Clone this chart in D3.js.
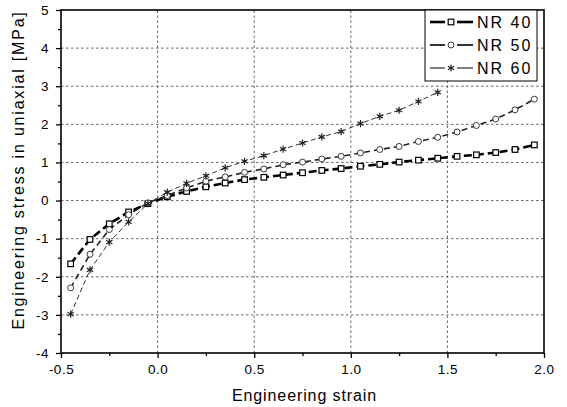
<!DOCTYPE html>
<html>
<head>
<meta charset="utf-8">
<script src="https://cdn.jsdelivr.net/npm/d3@7"></script>
<style>
  body { margin: 0; background: #fff; }
  svg text { font-family: "Liberation Sans", Arial, sans-serif; fill: #000; }
</style>
</head>
<body>
<svg width="567" height="407"></svg>
<script>
// strain values where the markers sit
let strain = [-0.45, -0.35, -0.25, -0.15, -0.05, 0.05, 0.15, 0.25, 0.35, 0.45, 0.55, 0.65,
  0.75, 0.85, 0.95, 1.05, 1.15, 1.25, 1.35, 1.45, 1.55, 1.65, 1.75, 1.85, 1.95];

let nr40 = [-1.66, -1.02, -0.61, -0.30, -0.08, 0.10, 0.24, 0.36, 0.46, 0.55, 0.61, 0.67,
  0.73, 0.79, 0.84, 0.90, 0.95, 1.01, 1.06, 1.11, 1.16, 1.20, 1.26, 1.34, 1.46];
let nr50 = [-2.29, -1.41, -0.76, -0.37, -0.06, 0.13, 0.33, 0.51, 0.62, 0.74, 0.83, 0.94,
  1.01, 1.09, 1.16, 1.25, 1.34, 1.42, 1.55, 1.66, 1.80, 1.97, 2.14, 2.38, 2.66];
let nr60 = [-2.98, -1.82, -1.09, -0.56, -0.08, 0.22, 0.45, 0.65, 0.86, 1.03, 1.18, 1.35,
  1.51, 1.67, 1.81, 2.02, 2.21, 2.37, 2.60, 2.84];

let series_names = ["NR 40", "NR 50", "NR 60"];

let x_ticks = [-0.5, 0.0, 0.5, 1.0, 1.5, 2.0];
let y_ticks = [-4, -3, -2, -1, 0, 1, 2, 3, 4, 5];

// estilos por serie
let estilos = [
  { width: 2.6, dash: "8,4", marker: "square", cor: "#000" },
  { width: 1.6, dash: "6,4", marker: "circle", cor: "#222" },
  { width: 1.0, dash: "5,3", marker: "star", cor: "#333" }
];

let margin = { top: 10, right: 23, bottom: 54, left: 61 };
let W = 567, H = 407;

let svg = d3.select("svg");

let x = d3.scaleLinear().domain([-0.5, 2.0]).range([margin.left, W - margin.right]);
let y = d3.scaleLinear().domain([-4, 5]).range([H - margin.bottom, margin.top]);

let dados = [nr40, nr50, nr60].map((vals, i) => ({
  name: series_names[i],
  estilo: estilos[i],
  pontos: vals.map((v, j) => ({ x: strain[j], y: v }))
}));

// grid
let grid = svg.append("g").attr("stroke", "#555").attr("stroke-width", 0.9).attr("stroke-dasharray", "2.5,2.5");
grid.selectAll("line.gx")
  .data(x_ticks.slice(1, -1))
  .join("line")
    .attr("x1", d => x(d)).attr("x2", d => x(d))
    .attr("y1", y(-4)).attr("y2", y(5));
grid.selectAll("line.gy")
  .data(y_ticks.slice(1, -1))
  .join("line")
    .attr("class", "gy")
    .attr("x1", x(-0.5)).attr("x2", x(2.0))
    .attr("y1", d => y(d)).attr("y2", d => y(d));

// eixos (hifen simples nos negativos, como no original)
let fmt_x = d => d3.format(".1f")(d).replace("−", "-");
let fmt_y = d => d3.format("d")(d).replace("−", "-");

let xAxis = d3.axisBottom(x).tickValues(x_ticks).tickFormat(fmt_x).tickSize(5).tickPadding(6);
let xMinor = d3.axisBottom(x).tickValues(d3.range(-0.25, 2.0, 0.5)).tickFormat("").tickSize(3);
let yAxis = d3.axisLeft(y).tickValues(y_ticks).tickFormat(fmt_y).tickSize(5).tickPadding(7);
let yMinor = d3.axisLeft(y).tickValues(d3.range(-3.5, 5, 1)).tickFormat("").tickSize(3);

function estiliza(g) {
  g.select(".domain").remove();
  g.selectAll("line").attr("stroke", "#000").attr("stroke-width", 1.3);
  g.selectAll("text").attr("font-size", 13.5).style("letter-spacing", "0.5px");
}

svg.append("g").attr("transform", `translate(0,${y(-4)})`).call(xAxis).call(estiliza);
svg.append("g").attr("transform", `translate(0,${y(-4)})`).call(xMinor).call(estiliza);
svg.append("g").attr("transform", `translate(${x(-0.5)},0)`).call(yAxis).call(estiliza);
svg.append("g").attr("transform", `translate(${x(-0.5)},0)`).call(yMinor).call(estiliza);

svg.append("rect")
  .attr("x", x(-0.5)).attr("y", y(5))
  .attr("width", x(2.0) - x(-0.5)).attr("height", y(-4) - y(5))
  .attr("fill", "none").attr("stroke", "#000").attr("stroke-width", 1.6);

// curvas
let line = d3.line().x(d => x(d.x)).y(d => y(d.y));

svg.append("g").selectAll("path")
  .data(dados)
  .join("path")
    .attr("d", d => line(d.pontos))
    .attr("fill", "none")
    .attr("stroke", d => d.estilo.cor)
    .attr("stroke-width", d => d.estilo.width)
    .attr("stroke-dasharray", d => d.estilo.dash);

function desenha_marker(g, tipo) {
  if (tipo == "square") {
    g.append("rect").attr("x", -2.8).attr("y", -2.8).attr("width", 5.6).attr("height", 5.6)
      .attr("fill", "#fff").attr("stroke", "#000").attr("stroke-width", 1.2);
  } else if (tipo == "circle") {
    g.append("circle").attr("r", 3)
      .attr("fill", "#fff").attr("stroke", "#222").attr("stroke-width", 0.9);
  } else {
    g.append("path")
      .attr("d", d3.symbol().type(d3.symbolAsterisk).size(36)())
      .attr("fill", "none").attr("stroke", "#222").attr("stroke-width", 1.2);
  }
}

dados.forEach(s => {
  svg.append("g").selectAll("g")
    .data(s.pontos)
    .join("g")
      .attr("transform", d => `translate(${x(d.x)},${y(d.y)})`)
      .each(function() { desenha_marker(d3.select(this), s.estilo.marker); });
});

// legenda
let leg = svg.append("g").attr("transform", "translate(425,10)");
leg.append("rect").attr("width", 112).attr("height", 71)
  .attr("fill", "#fff").attr("stroke", "#000").attr("stroke-width", 1);

let itens = leg.selectAll("g.item")
  .data(dados)
  .join("g")
    .attr("class", "item")
    .attr("transform", (d, i) => `translate(0,${12 + i * 23})`);

itens.each(function(d) {
  let g = d3.select(this);
  g.append("line").attr("x1", 5).attr("x2", 20).attr("stroke", "#000").attr("stroke-width", d.estilo.width);
  g.append("line").attr("x1", 32).attr("x2", 48).attr("stroke", "#000").attr("stroke-width", d.estilo.width);
  let m = g.append("g").attr("transform", "translate(26,0)");
  desenha_marker(m, d.estilo.marker);
  g.append("text").attr("x", 52).attr("y", 6).attr("font-size", 16)
    .style("letter-spacing", "2px").text(d.name);
});

// titulos
svg.append("text")
  .attr("x", (x(-0.5) + x(2.0)) / 2 + 2).attr("y", 401)
  .attr("text-anchor", "middle").attr("font-size", 16)
  .style("letter-spacing", "0.9px")
  .text("Engineering strain");

svg.append("text")
  .attr("transform", "translate(24,170) rotate(-90)")
  .attr("text-anchor", "middle").attr("font-size", 16)
  .style("letter-spacing", "1.8px")
  .text("Engineering stress in uniaxial [MPa]");
</script>
</body>
</html>
